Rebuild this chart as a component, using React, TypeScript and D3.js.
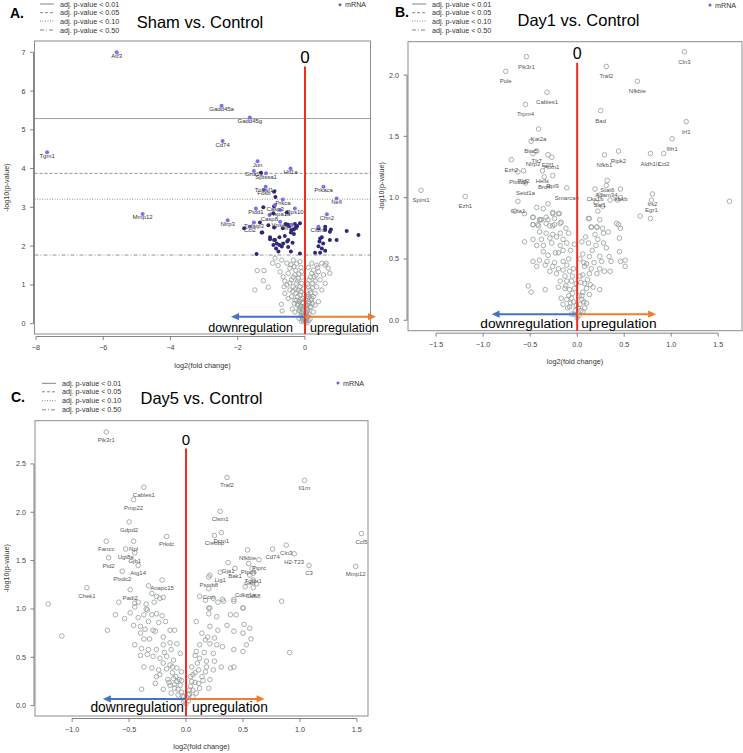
import React from "react";
import * as d3 from "d3";

type Pt = [number, number];
type Lb = [number, number, string];

// ---------- DATA ----------
const legendLabels = ["adj. p-value < 0.01", "adj. p-value < 0.05", "adj. p-value < 0.10", "adj. p-value < 0.50"];
const seriesName = "mRNA";
const titles = ["Sham vs. Control", "Day1 vs. Control", "Day5 vs. Control"];
const panelLetters = ["A.", "B.", "C."];

const aThresholds = [5.29, 3.876, 3.21, 1.77];
const aXTicks = [-8, -6, -4, -2, 0];
const aYTicks = [0, 1, 2, 3, 4, 5, 6, 7];
const bXTicks = [-1.5, -1.0, -0.5, 0, 0.5, 1.0, 1.5];
const bYTicks = [0, 0.5, 1.0, 1.5, 2.0];
const cXTicks = [-1.0, -0.5, 0, 0.5, 1.0, 1.5];
const cYTicks = [0, 0.5, 1.0, 1.5, 2.0, 2.5];

const aLabeled: Lb[] = [
  [-5.6, 7.0, "Atf3"], [-2.48, 5.62, "Gadd45a"], [-1.64, 5.32, "Gadd45g"], [-2.45, 4.71, "Cd74"],
  [-7.67, 4.42, "Tgm1"], [-1.41, 4.19, "Jun"], [-0.43, 4.0, "Hif1a"], [-1.52, 3.94, "Gna13"],
  [-1.16, 3.88, "Sptssa1"], [0.55, 3.53, "Prkaca"], [0.94, 3.23, "Nefl"], [-1.17, 3.53, "Tnfrsf1a"],
  [-1.22, 3.45, "Fosb"], [-0.89, 3.06, "Casp3"], [-0.66, 3.2, "Prkca"], [-4.83, 2.83, "Mmp12"],
  [-2.3, 2.67, "Nlrp3"], [0.65, 2.82, "Chn2"], [0.4, 2.5, "Cldn5"], [-0.3, 2.97, "Rps10"],
  [-1.46, 2.97, "Pidd1"], [-0.74, 2.93, "Hspa1a"], [-1.06, 2.8, "Casp8"], [-0.74, 2.63, "Vps4a"],
  [-1.52, 2.61, "Tnfaip3"], [-1.64, 2.5, "Ccl2"], [-0.4, 2.55, "Irak3"],
];
const aSig: Pt[] = [
  [-1.31, 3.89], [-0.92, 3.4], [-0.88, 3.27], [-1.24, 3.0], [-0.92, 3.03], [-0.94, 2.85], [-0.54, 2.87],
  [-1.81, 2.46], [-1.34, 2.61], [-1.09, 2.54], [-0.92, 2.48], [-1.27, 2.35], [-0.57, 2.57], [-0.47, 2.52],
  [-0.27, 2.48], [-0.4, 2.41], [-0.66, 2.46], [0.6, 2.5], [0.77, 2.43], [0.74, 2.37], [1.24, 2.39],
  [1.59, 2.29], [0.94, 2.16], [-1.29, 2.35], [-1.04, 2.23], [-0.92, 2.16], [-0.76, 2.03], [-0.86, 1.94],
  [-0.6, 2.26], [-0.53, 2.12], [-0.37, 2.09], [-0.42, 2.35], [-0.33, 2.31], [-1.44, 1.8], [-1.04, 2.18],
  [-0.79, 1.86], [-0.42, 1.86], [-0.15, 1.81], [-0.5, 1.98], [-0.84, 2.07], [0.43, 2.12], [0.5, 1.94],
  [0.3, 1.83], [0.45, 1.83], [0.5, 2.23], [0.6, 1.88], [0.4, 2.0], [-0.5, 2.55], [-0.3, 2.57],
  [-0.23, 2.52], [-0.15, 2.59], [-0.33, 2.43], [-0.89, 2.16], [-0.76, 2.23], [-0.65, 2.07], [-0.5, 2.16],
  [-0.94, 2.03], [-0.69, 1.99], [0.45, 2.2], [0.54, 2.07], [0.74, 2.16], [0.4, 2.46], [0.6, 2.42],
];
const aNs: Pt[] = [
  [-0.96, 1.56], [-0.89, 1.69], [-0.69, 1.64], [-1.42, 1.37], [-1.22, 1.37], [-1.24, 1.11], [-1.49, 0.87],
  [-1.09, 0.94], [-0.68, 0.33], [-0.74, 1.34], [-0.65, 1.21], [-0.54, 1.56], [-0.45, 1.43], [-0.35, 1.64],
  [-0.5, 1.3], [-0.4, 1.13], [-0.3, 1.26], [-0.54, 1.0], [-0.45, 0.87], [-0.35, 0.95], [-0.25, 1.04],
  [-0.2, 0.87], [-0.4, 0.7], [-0.3, 0.61], [-0.5, 0.65], [-0.6, 0.78], [-0.23, 0.48], [-0.15, 0.4],
  [-0.1, 0.27], [-0.05, 0.18], [-0.17, 0.57], [-0.27, 0.78], [-0.15, 0.74], [-0.2, 1.17], [-0.1, 1.34],
  [-0.1, 1.04], [-0.07, 0.65], [-0.03, 0.44], [0.2, 1.56], [0.35, 1.51], [0.5, 1.56], [0.6, 1.51],
  [0.74, 1.3], [0.4, 1.34], [0.27, 1.21], [0.45, 1.13], [0.35, 0.95], [0.23, 1.04], [0.15, 0.87],
  [0.3, 0.78], [0.2, 0.65], [0.1, 0.57], [0.15, 0.44], [0.07, 0.31], [0.05, 0.22], [0.4, 0.57],
  [0.5, 0.87], [0.6, 1.04], [0.69, 1.43], [0.25, 1.38], [0.55, 1.26], [0.63, 1.56], [0.02, 0.05],
  [-0.03, 0.1], [0.05, 0.15], [-0.08, 0.12], [0.1, 0.08], [-0.12, 0.2], [0.12, 0.25], [-0.06, 0.3],
  [0.08, 0.35], [-0.15, 0.32], [0.18, 0.42], [-0.2, 0.5], [0.22, 0.52], [-0.25, 0.6], [-0.1, 0.06],
  [0.06, 0.02], [-0.02, 0.2], [0.03, 0.28], [-0.33, 1.47], [-0.6, 1.1], [-0.28, 0.9], [-0.12, 0.83],
  [0.09, 0.75], [0.12, 1.12], [0.33, 1.25], [-0.38, 0.38], [-0.3, 0.3], [0.25, 0.3], [0.3, 0.48],
  [-0.15, 1.6], [-0.7, 0.5], [-0.05, 0.9], [0.05, 0.7], [0.0, 0.45], [-0.08, 0.55], [0.1, 0.95],
  [-0.18, 0.14], [0.15, 0.12], [-0.22, 1.1], [-0.35, 1.2], [-0.18, 1.28], [-0.28, 1.38], [-0.42, 1.52],
  [-0.25, 1.55], [-0.12, 1.45], [-0.08, 1.2], [-0.15, 0.95], [-0.22, 0.7], [-0.12, 0.62], [-0.32, 0.52],
  [-0.18, 0.35], [-0.08, 0.38], [-0.05, 0.52], [-0.02, 0.75], [0.02, 0.62], [0.06, 0.48], [0.04, 0.38],
  [0.12, 0.52], [0.18, 0.6], [0.1, 0.7], [0.17, 0.8], [0.22, 0.92], [0.08, 1.02], [0.16, 1.2],
  [0.3, 1.1], [0.2, 1.3], [0.1, 1.45], [0.38, 1.45], [-0.04, 0.05], [0.03, 0.08], [-0.06, 0.22],
  [0.09, 0.18], [-0.13, 0.45], [0.25, 0.7], [-0.36, 0.83], [-0.45, 1.05], [-0.62, 0.95], [-0.8, 1.5],
];

const bLabeled: Lb[] = [
  [-0.54, 2.15, "Pik3r1"], [-0.76, 2.03, "Pole"], [-0.32, 1.86, "Cables1"], [-0.55, 1.76, "Trpm4"],
  [0.31, 2.07, "Traf2"], [1.14, 2.19, "Cln3"], [0.64, 1.95, "Nfkbie"], [0.25, 1.71, "Bad"],
  [1.16, 1.62, "Irf1"], [1.01, 1.48, "Ifih1"], [0.92, 1.36, "Ccl2"], [0.78, 1.36, "Aldh1l1"],
  [0.44, 1.38, "Ripk2"], [0.29, 1.35, "Nfkb1"], [-0.41, 1.56, "Kat2a"], [-0.49, 1.46, "Birc5"],
  [-0.7, 1.31, "Ezh2"], [-0.43, 1.38, "Tlr7"], [-0.47, 1.36, "Nlrp3"], [-0.31, 1.35, "E2f1"],
  [-0.27, 1.33, "Atxn1"], [-0.37, 1.22, "Hells"], [-0.57, 1.22, "Pld2"], [-0.63, 1.21, "Plxdc2"],
  [-0.35, 1.17, "Brd4"], [-0.26, 1.18, "Rpl9"], [-0.55, 1.12, "Setd1a"], [-0.11, 1.08, "Smarca4"],
  [-1.66, 1.06, "Spint1"], [-1.19, 1.01, "Ezh1"], [-0.63, 0.97, "Gria1"], [0.32, 1.14, "Stat6"],
  [0.31, 1.1, "Adam34"], [0.19, 1.07, "Cks1b"], [0.24, 1.02, "Sat1"], [0.46, 1.07, "Ikbkb"],
  [0.8, 1.03, "Irs2"], [0.79, 0.98, "Egr1"],
];
const bNs: Pt[] = [
  [-0.43, 0.92], [-0.36, 0.91], [-0.31, 0.95], [-0.26, 0.88], [-0.2, 0.87], [-0.47, 0.84], [-0.39, 0.82],
  [-0.31, 0.82], [-0.24, 0.83], [-0.17, 0.8], [-0.47, 0.78], [-0.41, 0.77], [-0.33, 0.79], [-0.26, 0.77],
  [0.46, 1.0], [0.43, 0.98], [0.35, 0.98], [0.2, 0.96], [0.27, 0.93], [1.62, 0.97], [0.67, 0.85],
  [0.78, 0.83], [0.12, 0.83], [0.24, 0.82], [0.15, 0.76], [0.21, 0.76], [0.42, 0.79], [0.46, 0.75],
  [-0.66, 0.89], [-0.56, 0.87], [-0.47, 0.84], [-0.4, 0.82], [-0.33, 0.84], [-0.26, 0.87], [-0.19, 0.87],
  [-0.47, 0.78], [-0.42, 0.78], [-0.38, 0.82], [-0.29, 0.77], [-0.24, 0.78], [-0.18, 0.79], [-0.4, 0.72],
  [-0.33, 0.71], [-0.26, 0.7], [-0.18, 0.71], [-0.09, 0.71], [-0.56, 0.64], [-0.47, 0.66], [-0.38, 0.66],
  [-0.29, 0.67], [-0.22, 0.68], [-0.15, 0.66], [-0.43, 0.61], [-0.36, 0.61], [-0.27, 0.63], [-0.18, 0.61],
  [-0.11, 0.63], [-0.36, 0.56], [-0.31, 0.53], [-0.23, 0.55], [-0.15, 0.57], [-0.07, 0.57], [-0.47, 0.48],
  [-0.4, 0.49], [-0.32, 0.48], [-0.24, 0.47], [-0.15, 0.48], [-0.43, 0.44], [-0.34, 0.45], [-0.26, 0.44],
  [-0.2, 0.42], [-0.11, 0.45], [-0.29, 0.4], [-0.22, 0.38], [-0.15, 0.41], [-0.08, 0.4], [-0.52, 0.28],
  [-0.49, 0.23], [-0.34, 0.25], [-0.18, 0.32], [-0.11, 0.32], [-0.06, 0.32], [-0.2, 0.27], [-0.13, 0.26],
  [-0.08, 0.25], [-0.17, 0.18], [-0.11, 0.17], [-0.06, 0.18], [-0.15, 0.13], [-0.08, 0.11], [-0.02, 0.08],
  [0.13, 0.83], [0.22, 0.89], [0.15, 0.76], [0.21, 0.76], [0.27, 0.75], [0.19, 0.7], [0.28, 0.71],
  [0.33, 0.72], [0.44, 0.78], [0.45, 0.67], [0.12, 0.63], [0.2, 0.61], [0.28, 0.63], [0.31, 0.59],
  [0.06, 0.54], [0.13, 0.52], [0.24, 0.52], [0.26, 0.48], [0.34, 0.52], [0.36, 0.48], [0.08, 0.44],
  [0.15, 0.42], [0.24, 0.42], [0.29, 0.4], [0.35, 0.4], [0.46, 0.48], [0.51, 0.49], [0.51, 0.44],
  [0.45, 0.56], [0.06, 0.37], [0.13, 0.38], [0.21, 0.38], [0.08, 0.3], [0.14, 0.29], [0.24, 0.25],
  [0.06, 0.23], [0.13, 0.21], [0.05, 0.17], [0.1, 0.14], [0.04, 0.08], [0.06, 0.07], [0.0, 0.02],
  [0.02, 0.04], [-0.03, 0.05], [0.01, 0.1], [-0.01, 0.12], [0.03, 0.13], [-0.04, 0.15], [0.05, 0.2],
  [-0.05, 0.22], [-0.12, 0.75], [0.09, 0.68], [-0.01, 0.3], [0.03, 0.36], [-0.04, 0.42], [0.07, 0.47],
  [-0.09, 0.2], [-0.12, 0.28], [-0.07, 0.14], [-0.1, 0.1], [0.08, 0.1], [0.1, 0.26], [0.11, 0.33],
  [-0.13, 0.36], [-0.03, 0.26], [0.04, 0.31], [0.02, 0.2], [-0.06, 0.05], [0.07, 0.15], [0.17, 0.27],
  [0.1, 0.46], [-0.09, 0.5], [0.16, 0.57], [-0.2, 0.55], [0.03, 0.5], [-0.03, 0.62], [0.22, 0.66],
  [0.05, 0.64], [0.18, 0.47], [-0.05, 0.36],
];

const cLabeled: Lb[] = [
  [-0.7, 2.83, "Pik3r1"], [0.36, 2.36, "Traf2"], [1.04, 2.33, "Il1rn"], [-0.37, 2.26, "Cables1"],
  [-0.46, 2.13, "Pmp22"], [-0.5, 1.9, "Gdpd2"], [0.3, 2.01, "Clstn1"], [-0.17, 1.75, "Prkdc"],
  [-0.7, 1.7, "Fancc"], [-0.46, 1.7, "Npl"], [-0.53, 1.62, "Ugt8a"], [-0.45, 1.58, "Gjb1"],
  [-0.68, 1.53, "Pld2"], [-0.42, 1.45, "Atg14"], [-0.56, 1.39, "Plxdc2"], [-0.21, 1.3, "Anapc15"],
  [-0.87, 1.22, "Chek1"], [-0.49, 1.2, "Padi2"], [1.54, 1.78, "Ccl5"], [1.49, 1.44, "Mmp12"],
  [1.08, 1.45, "C3"], [0.95, 1.57, "H2-T23"], [0.88, 1.66, "Cln3"], [0.76, 1.62, "Cd74"],
  [0.54, 1.61, "Nfkbie"], [0.64, 1.51, "Ptprc"], [0.55, 1.47, "Ptpn6"], [0.37, 1.48, "Gja1"],
  [0.43, 1.42, "Bak1"], [0.59, 1.37, "Tgfbr1"], [0.56, 1.35, "Gsn"], [0.52, 1.23, "Cdkn1a"],
  [0.59, 1.22, "Cd68"], [0.2, 1.21, "Ccni"], [0.2, 1.33, "Psmb8"], [0.3, 1.38, "Lig1"],
  [0.25, 1.76, "Crebbp"], [0.31, 1.79, "Dctn1"],
];
const cNs: Pt[] = [
  [-1.21, 1.05], [-0.59, 1.07], [-0.45, 1.02], [-0.42, 1.07], [-0.35, 1.05], [-0.28, 1.07], [-0.35, 1.0],
  [-0.3, 1.16], [-0.26, 1.13], [-0.23, 1.11], [-0.2, 1.12], [-0.33, 1.24], [0.12, 1.13], [0.17, 1.09],
  [0.21, 1.01], [0.32, 1.1], [0.24, 1.11], [0.42, 1.1], [0.5, 1.01], [0.84, 1.08], [0.21, 1.35],
  [0.58, 1.42], [0.59, 1.3], [0.62, 1.26], [-1.09, 0.72], [-0.69, 0.78], [-0.62, 0.94], [-0.54, 0.9],
  [-0.49, 0.96], [-0.45, 1.06], [-0.42, 0.91], [-0.37, 0.94], [-0.34, 0.99], [-0.3, 0.94], [-0.26, 0.95],
  [-0.21, 0.93], [-0.46, 0.83], [-0.4, 0.82], [-0.36, 0.79], [-0.33, 0.87], [-0.29, 0.78], [-0.24, 0.86],
  [-0.18, 0.87], [-0.14, 0.78], [-0.1, 0.78], [-0.4, 0.75], [-0.37, 0.69], [-0.32, 0.69], [-0.27, 0.77],
  [-0.2, 0.71], [-0.14, 0.65], [-0.08, 0.64], [-0.45, 0.63], [-0.39, 0.59], [-0.33, 0.58], [-0.26, 0.58],
  [-0.2, 0.63], [-0.13, 0.58], [-0.05, 0.54], [-0.4, 0.52], [-0.34, 0.53], [-0.29, 0.51], [-0.23, 0.49],
  [-0.17, 0.51], [-0.11, 0.47], [-0.37, 0.4], [-0.3, 0.39], [-0.24, 0.37], [-0.2, 0.44], [-0.14, 0.42],
  [-0.08, 0.39], [-0.04, 0.35], [-0.39, 0.17], [-0.2, 0.17], [-0.16, 0.27], [-0.11, 0.28], [-0.08, 0.25],
  [-0.05, 0.21], [-0.14, 0.21], [-0.1, 0.18], [-0.04, 0.14], [-0.07, 0.11], [-0.02, 0.09], [-0.13, 0.13],
  [-0.27, 0.23], [-0.23, 0.32], [0.2, 1.01], [0.28, 1.07], [0.33, 1.08], [0.42, 1.08], [0.5, 1.01],
  [0.39, 0.94], [0.44, 0.94], [0.27, 0.92], [0.2, 0.95], [0.51, 0.84], [0.56, 0.8], [0.5, 0.75],
  [0.53, 0.63], [0.5, 0.56], [0.57, 0.69], [0.36, 0.83], [0.42, 0.77], [0.28, 0.78], [0.21, 0.82],
  [0.09, 0.87], [0.14, 0.75], [0.19, 0.71], [0.25, 0.7], [0.17, 0.68], [0.21, 0.64], [0.12, 0.63],
  [0.27, 0.63], [0.32, 0.61], [0.42, 0.58], [0.09, 0.56], [0.16, 0.55], [0.24, 0.54], [0.12, 0.49],
  [0.18, 0.46], [0.25, 0.46], [0.31, 0.4], [0.39, 0.39], [0.42, 0.4], [0.05, 0.4], [0.11, 0.37],
  [0.17, 0.35], [0.24, 0.37], [0.06, 0.32], [0.14, 0.3], [0.21, 0.27], [0.05, 0.25], [0.11, 0.23],
  [0.06, 0.16], [0.12, 0.18], [0.2, 0.18], [0.02, 0.11], [0.06, 0.09], [0.91, 0.55], [0.0, 0.02],
  [0.02, 0.05], [-0.02, 0.04], [0.01, 0.08], [-0.01, 0.06], [0.03, 0.12], [-0.03, 0.1],
  [-0.09, 0.3], [-0.12, 0.34], [-0.06, 0.27], [-0.15, 0.24], [-0.1, 0.22], [-0.07, 0.17], [0.04, 0.2],
  [0.08, 0.24], [0.09, 0.13], [0.04, 0.3], [0.08, 0.34], [-0.17, 0.38], [-0.12, 0.4], [0.1, 0.44],
  [-0.26, 0.3], [0.15, 0.26], [-0.19, 0.55], [0.03, 0.16], [-0.04, 0.26], [0.18, 0.4], [0.08, 0.52],
];

// ---------- LAYOUT ----------
const FONT = "'Liberation Sans', Arial, Helvetica, sans-serif";

type Cfg = {
  idx: number; left: number; right: number; top: number; bottom: number;
  xDom: [number, number]; yDom: [number, number]; xTicks: number[]; yTicks: number[]; fmt: (v: number) => string;
  letterX: number; letterY: number; titleX: number; titleY: number; legX: number; legY: number[];
  mX: number; mY: number; redTop: number; zeroSize: number; arrowY: number; blueTip: number; orangeTip: number;
  regSize: number; regBase: number; downGap: number; upGap: number; yLabX: number; xLabY: number;
  labelDy: number; r: number; thresholds: number[]; labeled: Lb[]; sig: Pt[]; ns: Pt[]; sigStyle: boolean;
};

const f1 = d3.format(".1f");
const f0 = d3.format("d");

const cfgs: Cfg[] = [
  {
    idx: 0, left: 34.5, right: 370.5, top: 41, bottom: 334, xDom: [-8.045, 1.948], yDom: [-0.266, 7.29],
    xTicks: aXTicks, yTicks: aYTicks, fmt: f0, letterX: 10, letterY: 12.5, titleX: 200, titleY: 21.5,
    legX: 40, legY: [4, 12.7, 21, 30], mX: 340, mY: 4.7, redTop: 6.63, zeroSize: 17, arrowY: 0.18,
    blueTip: -2.2, orangeTip: 2.11, regSize: 12.5, regBase: 331.5, downGap: 12, upGap: 5, yLabX: 6,
    xLabY: 365.7, labelDy: 3.5, r: 2.2, thresholds: aThresholds, labeled: aLabeled, sig: aSig, ns: aNs, sigStyle: true,
  },
  {
    idx: 1, left: 408, right: 742, top: 41.7, bottom: 330.7, xDom: [-1.799, 1.753], yDom: [-0.085, 2.272],
    xTicks: bXTicks, yTicks: bYTicks, fmt: f1, letterX: 395, letterY: 12, titleX: 578.5, titleY: 20,
    legX: 412, legY: [4, 12.7, 21, 30], mX: 710, mY: 5, redTop: 2.1, zeroSize: 16, arrowY: 0.05,
    blueTip: -0.91, orangeTip: 0.84, regSize: 13.7, regBase: 328.3, downGap: 4, upGap: 4, yLabX: 381.7,
    xLabY: 361, labelDy: 10, r: 2.3, thresholds: [], labeled: bLabeled, sig: [], ns: bNs, sigStyle: false,
  },
  {
    idx: 2, left: 35, right: 368, top: 420.7, bottom: 716, xDom: [-1.326, 1.598], yDom: [-0.107, 2.947],
    xTicks: cXTicks, yTicks: cYTicks, fmt: f1, letterX: 11, letterY: 397, titleX: 201.5, titleY: 398,
    legX: 42, legY: [383.3, 391.8, 400.7, 409.8], mX: 338, mY: 383, redTop: 2.66, zeroSize: 15, arrowY: 0.07,
    blueTip: -0.73, orangeTip: 0.69, regSize: 13.8, regBase: 711.7, downGap: 2, upGap: 6, yLabX: 6,
    xLabY: 746.5, labelDy: 8, r: 2.3, thresholds: [], labeled: cLabeled, sig: [], ns: cNs, sigStyle: false,
  },
];

const dashes = ["", "3,2", "1,1.5", "4,2,1,2"];

function Arrow({ x1, x2, y, color }: { x1: number; x2: number; y: number; color: string }) {
  const dir = x2 > x1 ? 1 : -1;
  const hl = 8, hw = 3.6;
  return (
    <g>
      <line x1={x1} x2={x2 - dir * hl * 0.8} y1={y} y2={y} stroke={color} strokeWidth={2} />
      <polygon points={`${x2},${y} ${x2 - dir * hl},${y - hw} ${x2 - dir * hl},${y + hw}`} fill={color} />
    </g>
  );
}

function Panel({ c }: { c: Cfg }) {
  const x = d3.scaleLinear().domain(c.xDom).range([c.left, c.right]);
  const y = d3.scaleLinear().domain(c.yDom).range([c.bottom, c.top]);
  const x0 = x(0);
  const ay = y(c.arrowY);
  const tickCol = "#444";
  const xt0 = x(c.xTicks[0]), xt1 = x(c.xTicks[c.xTicks.length - 1]);
  const yt0 = y(c.yTicks[0]), yt1 = y(c.yTicks[c.yTicks.length - 1]);
  return (
    <g fontFamily={FONT}>
      <text x={c.letterX} y={c.letterY} fontSize={14} fontWeight="bold" dominantBaseline="central">{panelLetters[c.idx]}</text>
      {legendLabels.map((t, i) => (
        <g key={t}>
          <line x1={c.legX} x2={c.legX + 14} y1={c.legY[i]} y2={c.legY[i]} stroke="#666" strokeWidth={0.8}
            strokeDasharray={dashes[i] || undefined} />
          <text x={c.legX + 20} y={c.legY[i]} fontSize={7.2} fill="#333" dominantBaseline="central">{t}</text>
        </g>
      ))}
      <circle cx={c.mX} cy={c.mY} r={1.5} fill="#6a5ae0" />
      <text x={c.mX + 5} y={c.mY} fontSize={7.2} fill="#333" dominantBaseline="central">{seriesName}</text>
      <text x={c.titleX} y={c.titleY} fontSize={16.5} textAnchor="middle" dominantBaseline="central">{titles[c.idx]}</text>

      <rect x={c.left} y={c.top} width={c.right - c.left} height={c.bottom - c.top} fill="none" stroke="#8c8c8c" strokeWidth={1} />

      {c.thresholds.map((t, i) => (
        <line key={i} x1={c.left} x2={c.right} y1={y(t)} y2={y(t)} stroke={i === 0 ? "#888" : "#777"} strokeWidth={0.8}
          strokeDasharray={dashes[i] || undefined} />
      ))}

      {c.ns.map((p, i) => (
        <circle key={"n" + i} cx={x(p[0])} cy={y(p[1])} r={c.r} fill="none" stroke="#939c9a" strokeWidth={0.8} />
      ))}
      {c.sig.map((p, i) => (
        <circle key={"s" + i} cx={x(p[0])} cy={y(p[1])} r={2} fill="#2e2878" />
      ))}
      {c.labeled.map((p, i) =>
        c.sigStyle ? (
          <circle key={"l" + i} cx={x(p[0])} cy={y(p[1])} r={2} fill="#7e6ff2" />
        ) : (
          <circle key={"l" + i} cx={x(p[0])} cy={y(p[1])} r={c.r} fill="none" stroke="#939c9a" strokeWidth={0.8} />
        )
      )}
      {c.labeled.map((p, i) => (
        <text key={"t" + i} x={x(p[0])} y={y(p[1]) + c.labelDy} fontSize={6} fill={c.sigStyle ? "#333" : "#555"}
          textAnchor="middle" dominantBaseline="central">{p[2]}</text>
      ))}

      <line x1={x0} x2={x0} y1={y(c.redTop)} y2={c.bottom} stroke="#ee2e24" strokeWidth={2} />
      <text x={x0} y={y(c.redTop) - 9} fontSize={c.zeroSize} textAnchor="middle" dominantBaseline="central">0</text>

      <Arrow x1={x0} x2={x(c.blueTip)} y={ay} color="#4472c4" />
      <Arrow x1={x0} x2={x(c.orangeTip)} y={ay} color="#ed7d31" />
      <text x={x0 - c.downGap} y={c.regBase} fontSize={c.regSize} textAnchor="end">downregulation</text>
      <text x={x0 + c.upGap} y={c.regBase} fontSize={c.regSize} textAnchor="start">upregulation</text>

      <line x1={xt0} x2={xt1} y1={c.bottom + 2.5} y2={c.bottom + 2.5} stroke="#666" strokeWidth={0.8} />
      {c.xTicks.map((t) => (
        <g key={"xt" + t}>
          <line x1={x(t)} x2={x(t)} y1={c.bottom + 2.5} y2={c.bottom + 6} stroke="#666" strokeWidth={0.8} />
          <text x={x(t)} y={c.bottom + 13.5} fontSize={7.2} fill={tickCol} textAnchor="middle" dominantBaseline="central">
            {c.fmt(t)}
          </text>
        </g>
      ))}
      <text x={(c.left + c.right) / 2} y={c.xLabY} fontSize={7.3} fill="#333" textAnchor="middle" dominantBaseline="central">
        log2(fold change)
      </text>

      <line x1={c.left - 1} x2={c.left - 1} y1={yt0} y2={yt1} stroke="#666" strokeWidth={0.8} />
      {c.yTicks.map((t) => (
        <g key={"yt" + t}>
          <line x1={c.left - 4.5} x2={c.left - 1} y1={y(t)} y2={y(t)} stroke="#666" strokeWidth={0.8} />
          <text x={c.left - 9} y={y(t)} fontSize={7.2} fill={tickCol} textAnchor="end" dominantBaseline="central">
            {c.fmt(t)}
          </text>
        </g>
      ))}
      <text transform={`translate(${c.yLabX},${(c.top + c.bottom) / 2}) rotate(-90)`} fontSize={7.2} fill="#333"
        textAnchor="middle" dominantBaseline="central">-log10(p-value)</text>
    </g>
  );
}

export default function App() {
  return (
    <svg width={743} height={753} viewBox="0 0 743 753"
      style={{ position: "absolute", left: 0, top: 0, background: "#fff" }}>
      <rect width={743} height={753} fill="#fff" />
      {cfgs.map((c) => <Panel key={c.idx} c={c} />)}
    </svg>
  );
}
